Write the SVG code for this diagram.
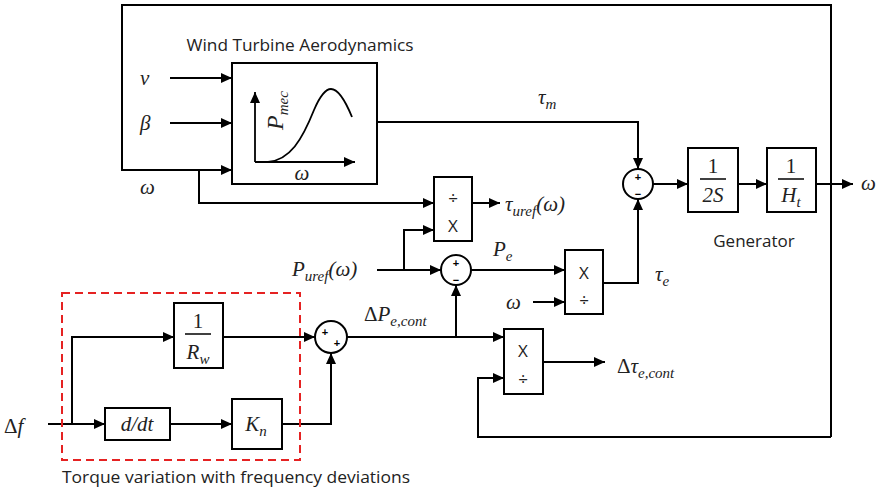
<svg xmlns="http://www.w3.org/2000/svg" width="878" height="489" viewBox="0 0 878 489">
<style>
.ln{fill:none;stroke:#000;stroke-width:2}
.bx{fill:#fff;stroke:#000;stroke-width:2}
.m{font-family:"Liberation Serif","DejaVu Serif",serif;font-style:italic;font-size:21px;fill:#222}
.s{font-family:"Open Sans","Liberation Sans",sans-serif;font-size:17px;fill:#222}
.op{font-family:"Open Sans","Liberation Sans",sans-serif;font-size:17px;fill:#222;text-anchor:middle}
.sg{font-family:"Liberation Sans",sans-serif;font-size:11px;font-weight:bold;fill:#000;text-anchor:middle}
.sub{font-size:15px}
.c{text-anchor:middle}
</style>
<defs>
<marker id="ar" markerUnits="userSpaceOnUse" markerWidth="11" markerHeight="10" refX="11" refY="5" orient="auto">
<path d="M0,0 L11,5 L0,10 z" fill="#000"/>
</marker>
</defs>

<g id="connectors">
<path class="ln" d="M170,78 H232" marker-end="url(#ar)"/>
<path class="ln" d="M170,123 H232" marker-end="url(#ar)"/>
<path class="ln" d="M831,437 V5 H122 V170 H232" marker-end="url(#ar)"/>
<path class="ln" d="M831,437 H478 V378 H504" marker-end="url(#ar)"/>
<path class="ln" d="M199,170 V203 H434" marker-end="url(#ar)"/>
<path class="ln" d="M472,203 H500" marker-end="url(#ar)"/>
<path class="ln" d="M377,122 H638 V169" marker-end="url(#ar)"/>
<path class="ln" d="M377,270 H441" marker-end="url(#ar)"/>
<path class="ln" d="M404,270 V230 H434" marker-end="url(#ar)"/>
<path class="ln" d="M471,270 H565" marker-end="url(#ar)"/>
<path class="ln" d="M533,302 H565" marker-end="url(#ar)"/>
<path class="ln" d="M603,283 H638 V199" marker-end="url(#ar)"/>
<path class="ln" d="M653,184 H688" marker-end="url(#ar)"/>
<path class="ln" d="M738,184 H767" marker-end="url(#ar)"/>
<path class="ln" d="M816,184 H853" marker-end="url(#ar)"/>
<path class="ln" d="M48,424 H105" marker-end="url(#ar)"/>
<path class="ln" d="M72,424 V337 H174" marker-end="url(#ar)"/>
<path class="ln" d="M223,337 H315" marker-end="url(#ar)"/>
<path class="ln" d="M170,424 H232" marker-end="url(#ar)"/>
<path class="ln" d="M282,424 H331 V353" marker-end="url(#ar)"/>
<path class="ln" d="M347,337 H504" marker-end="url(#ar)"/>
<path class="ln" d="M456,337 V285" marker-end="url(#ar)"/>
<path class="ln" d="M543,362 H605" marker-end="url(#ar)"/>
</g>

<g id="aero">
<text class="s c" x="300" y="51" textLength="227" lengthAdjust="spacingAndGlyphs">Wind Turbine Aerodynamics</text>
<rect class="bx" x="232" y="63" width="145" height="121"/>
<path class="ln" d="M255,162 V92" marker-end="url(#ar)" style="stroke-width:1.8"/>
<path class="ln" d="M255,162 H355" marker-end="url(#ar)" style="stroke-width:1.8"/>
<path class="ln" d="M268,162 C290,160 302,140 314,110 C320,96 326,89 331,89 C338,89 345,100 352,117" style="stroke-width:1.8"/>
<text class="m" transform="translate(283,130) rotate(-90)" style="font-size:24px">P<tspan class="sub" dy="5">mec</tspan></text>
<text class="m c" x="302" y="180">ω</text>
</g>

<g id="inputs">
<text class="m" x="140" y="85">v</text>
<text class="m" x="140" y="130">β</text>
<text class="m" x="140" y="194">ω</text>
</g>

<g id="div1">
<rect class="bx" x="434" y="177" width="38" height="64"/>
<text class="op" x="453" y="204">÷</text>
<text class="op" x="453" y="232">X</text>
<text class="m" x="505" y="211">τ<tspan class="sub" dy="5">uref</tspan><tspan dy="-5">(ω)</tspan></text>
</g>

<g id="sum2">
<circle class="bx" cx="456" cy="270" r="15"/>
<text class="sg" x="456" y="267">+</text>
<text class="sg" x="456" y="284">−</text>
<text class="m" x="292" y="276">P<tspan class="sub" dy="5">uref</tspan><tspan dy="-5">(ω)</tspan></text>
<text class="m" x="493" y="256">P<tspan class="sub" dy="5">e</tspan></text>
</g>

<g id="mul1">
<rect class="bx" x="565" y="250" width="38" height="64"/>
<text class="op" x="584" y="279">X</text>
<text class="op" x="584" y="306">÷</text>
<text class="m" x="506" y="309">ω</text>
<text class="m" x="655" y="281">τ<tspan class="sub" dy="5">e</tspan></text>
</g>

<g id="sum1">
<circle class="bx" cx="638" cy="184" r="15"/>
<text class="sg" x="638" y="181">+</text>
<text class="sg" x="638" y="198">−</text>
<text class="m" x="538" y="104">τ<tspan class="sub" dy="5">m</tspan></text>
</g>

<g id="gen">
<rect class="bx" x="688" y="148" width="50" height="64"/>
<text class="m c" x="713" y="173" style="font-style:normal">1</text>
<path class="ln" d="M700,179 H726" style="stroke-width:1.5"/>
<text class="m c" x="713" y="202">2S</text>
<rect class="bx" x="767" y="148" width="49" height="64"/>
<text class="m c" x="791" y="173" style="font-style:normal">1</text>
<path class="ln" d="M778,179 H804" style="stroke-width:1.5"/>
<text class="m c" x="791" y="202">H<tspan class="sub" dy="5">t</tspan></text>
<text class="s c" x="754" y="247">Generator</text>
<text class="m" x="861" y="190">ω</text>
</g>

<g id="torque">
<rect x="62" y="293" width="238" height="167" fill="none" stroke="#e52222" stroke-width="2" stroke-dasharray="8,5"/>
<rect class="bx" x="174" y="303" width="49" height="65"/>
<text class="m c" x="198" y="328" style="font-style:normal">1</text>
<path class="ln" d="M185,334 H211" style="stroke-width:1.5"/>
<text class="m c" x="198" y="359">R<tspan class="sub" dy="5">w</tspan></text>
<rect class="bx" x="105" y="408" width="65" height="32"/>
<text class="m c" x="137" y="431">d/dt</text>
<rect class="bx" x="232" y="399" width="50" height="50"/>
<text class="m c" x="256" y="431">K<tspan class="sub" dy="5">n</tspan></text>
<text class="m" x="4" y="433" style="font-style:normal">Δ<tspan style="font-style:italic">f</tspan></text>
<text class="s" x="62" y="483" textLength="348" lengthAdjust="spacingAndGlyphs">Torque variation with frequency deviations</text>
</g>

<g id="sum3">
<circle class="bx" cx="331" cy="337" r="16"/>
<text class="sg" x="325" y="336">+</text>
<text class="sg" x="337" y="347">+</text>
<text class="m" x="364" y="321"><tspan style="font-style:normal">Δ</tspan>P<tspan class="sub" dy="5">e,cont</tspan></text>
</g>

<g id="mul2">
<rect class="bx" x="504" y="329" width="39" height="65"/>
<text class="op" x="523" y="357">X</text>
<text class="op" x="523" y="385">÷</text>
<text class="m" x="617" y="373"><tspan style="font-style:normal">Δ</tspan>τ<tspan class="sub" dy="5">e,cont</tspan></text>
</g>
</svg>
